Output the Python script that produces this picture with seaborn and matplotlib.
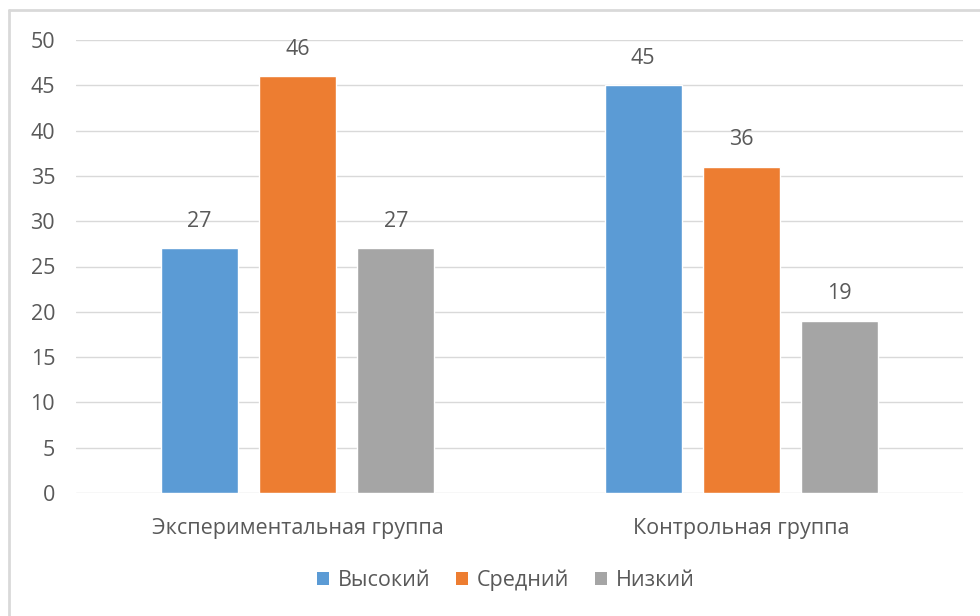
import matplotlib
matplotlib.use("Agg")
import matplotlib.pyplot as plt
import seaborn as sns
import pandas as pd
from matplotlib.patches import Patch
from matplotlib.lines import Line2D

groups = ["Экспериментальная группа", "Контрольная группа"]
levels = ["Высокий", "Средний", "Низкий"]
high = [27, 45]
mid = [46, 36]
low = [27, 19]
colors = ["#5B9BD5", "#ED7D31", "#A5A5A5"]

rows = []
for i, g in enumerate(groups):
    for lvl, vals in zip(levels, [high, mid, low]):
        rows.append({"group": g, "level": lvl, "value": vals[i]})
df = pd.DataFrame(rows)

sns.set_theme(style="white")
plt.rcParams["font.family"] = ["Open Sans", "DejaVu Sans"]
txt = "#595959"
fs = 15.5

fig = plt.figure(figsize=(9.8, 6.16), dpi=100)
ax = fig.add_axes([76/980, 1 - 493/616, (963-76)/980, (493-40)/616])

sns.barplot(data=df, x="group", y="value", hue="level", order=groups,
            hue_order=levels, palette=colors, width=0.663, gap=0.21,
            saturation=1, ax=ax, legend=False, errorbar=None)

for cont in ax.containers:
    ax.bar_label(cont, padding=12, fontsize=fs, color=txt)

ax.set_ylim(0, 50)
ax.set_xlim(-0.5, 1.5)
ax.set_yticks(range(0, 51, 5))
ax.yaxis.grid(True, color="#d9d9d9", linewidth=1)
ax.set_axisbelow(True)
for s in ax.spines.values():
    s.set_visible(False)
ax.tick_params(axis="y", length=0, pad=15, labelsize=fs, labelcolor=txt)
ax.tick_params(axis="x", length=0, pad=18, labelsize=fs, labelcolor=txt)
ax.set_xlabel("")
ax.set_ylabel("")

handles = [Patch(facecolor=c, edgecolor="none") for c in colors]
fig.legend(handles, levels, loc="center", bbox_to_anchor=(506/980, 1 - 580/616),
           ncol=3, frameon=False, fontsize=fs, labelcolor=txt,
           handlelength=0.56, handleheight=0.56, handletextpad=0.4, columnspacing=1.2)

# chart frame (left and top edges visible)
fig.add_artist(Line2D([9/980, 9/980], [0, 1 - 10/616], color="#d9d9d9", lw=2))
fig.add_artist(Line2D([9/980, 1], [1 - 10/616, 1 - 10/616], color="#d9d9d9", lw=2))

fig.savefig("out.png", dpi=100)
